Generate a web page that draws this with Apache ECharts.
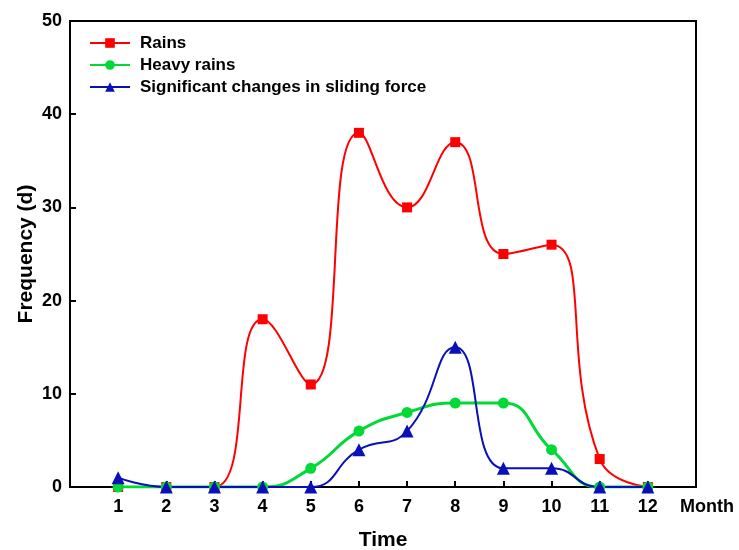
<!DOCTYPE html>
<html>
<head>
<meta charset="utf-8">
<script src="https://cdn.jsdelivr.net/npm/echarts@6/dist/echarts.min.js"></script>
<style>
  html, body { margin: 0; padding: 0; background: #fff; }
  #main { width: 739px; height: 550px; }
</style>
</head>
<body>
<div id="main"></div>
<script>
// months on the x axis
var months = [1, 2, 3, 4, 5, 6, 7, 8, 9, 10, 11, 12];
// frequency (days) per month
var rains = [0, 0, 0, 18, 11, 38, 30, 37, 25, 26, 3, 0];
var heavyRains = [0, 0, 0, 0, 2, 6, 8, 9, 9, 4, 0, 0];
var slidingForce = [1, 0, 0, 0, 0, 4, 6, 15, 2, 2, 0, 0];
var yTicks = [0, 10, 20, 30, 40, 50];

function pairs(vals) {
  var out = [];
  for (var i = 0; i < months.length; i++) {
    out.push([months[i], vals[i]]);
  }
  return out;
}

window.onload = function () {
  var myChart = echarts.init(document.getElementById('main'));
  var labelFont = { fontFamily: 'Liberation Sans', fontWeight: 'bold', fontSize: 18, color: '#000' };
  var nameFont = { fontFamily: 'Liberation Sans', fontWeight: 'bold', fontSize: 21, color: '#000' };

  var option = {
    backgroundColor: 'white',
    animation: false,
    grid: {
      left: 70, right: 43, top: 21, bottom: 63,
      outerBoundsMode: 'none',
      containLabel: false,
      show: true, borderColor: '#000', borderWidth: 2
    },
    legend: {
      orient: 'vertical',
      left: 84, top: 29,
      itemWidth: 40, itemHeight: 12, itemGap: 4,
      textStyle: {
        fontFamily: 'Liberation Sans', fontWeight: 'bold', fontSize: 17, color: '#000',
        lineHeight: 18, padding: [0, 0, 0, 5]
      },
      data: ['Rains', 'Heavy rains', 'Significant changes in sliding force']
    },
    xAxis: {
      type: 'value',
      min: 0, max: 13, interval: 1,
      name: 'Time',
      nameLocation: 'middle',
      nameGap: 43,
      nameMoveOverlap: false,
      nameTextStyle: nameFont,
      axisLine: { lineStyle: { color: '#000', width: 2 } },
      axisTick: { inside: true, length: 6, lineStyle: { color: '#000', width: 2 } },
      splitLine: { show: false },
      axisLabel: Object.assign({
        margin: 11,
        formatter: function (v) { return months.indexOf(v) >= 0 ? String(v) : ''; }
      }, labelFont)
    },
    yAxis: {
      type: 'value',
      min: 0, max: 50, interval: 10,
      name: 'Frequency (d)',
      nameLocation: 'middle',
      nameGap: 33,
      nameMoveOverlap: false,
      nameTextStyle: nameFont,
      axisLine: { lineStyle: { color: '#000', width: 2 } },
      axisTick: { inside: true, length: 6, lineStyle: { color: '#000', width: 2 } },
      splitLine: { show: false },
      axisLabel: Object.assign({
        margin: 8,
        formatter: function (v) { return yTicks.indexOf(v) >= 0 ? String(v) : ''; }
      }, labelFont)
    },
    graphic: [{
      type: 'text',
      left: 680, top: 498,
      style: { text: 'Month', font: 'bold 18px "Liberation Sans"', fill: '#000' }
    }],
    series: [{
      name: 'Rains',
      type: 'line',
      smooth: 0.5,
      data: pairs(rains),
      symbol: 'rect',
      symbolSize: 10,
      itemStyle: { color: '#ff0000' },
      lineStyle: { color: '#ff0000', width: 2 }
    }, {
      name: 'Heavy rains',
      type: 'line',
      smooth: 0.5,
      data: pairs(heavyRains),
      symbol: 'circle',
      symbolSize: 11,
      itemStyle: { color: '#00d936' },
      lineStyle: { color: '#00d936', width: 3 }
    }, {
      name: 'Significant changes in sliding force',
      type: 'line',
      smooth: 0.5,
      data: pairs(slidingForce),
      symbol: 'triangle',
      symbolSize: 13,
      itemStyle: { color: '#0a10b8' },
      lineStyle: { color: '#0a10b8', width: 2 }
    }]
  };

  myChart.setOption(option);
};
</script>
</body>
</html>
